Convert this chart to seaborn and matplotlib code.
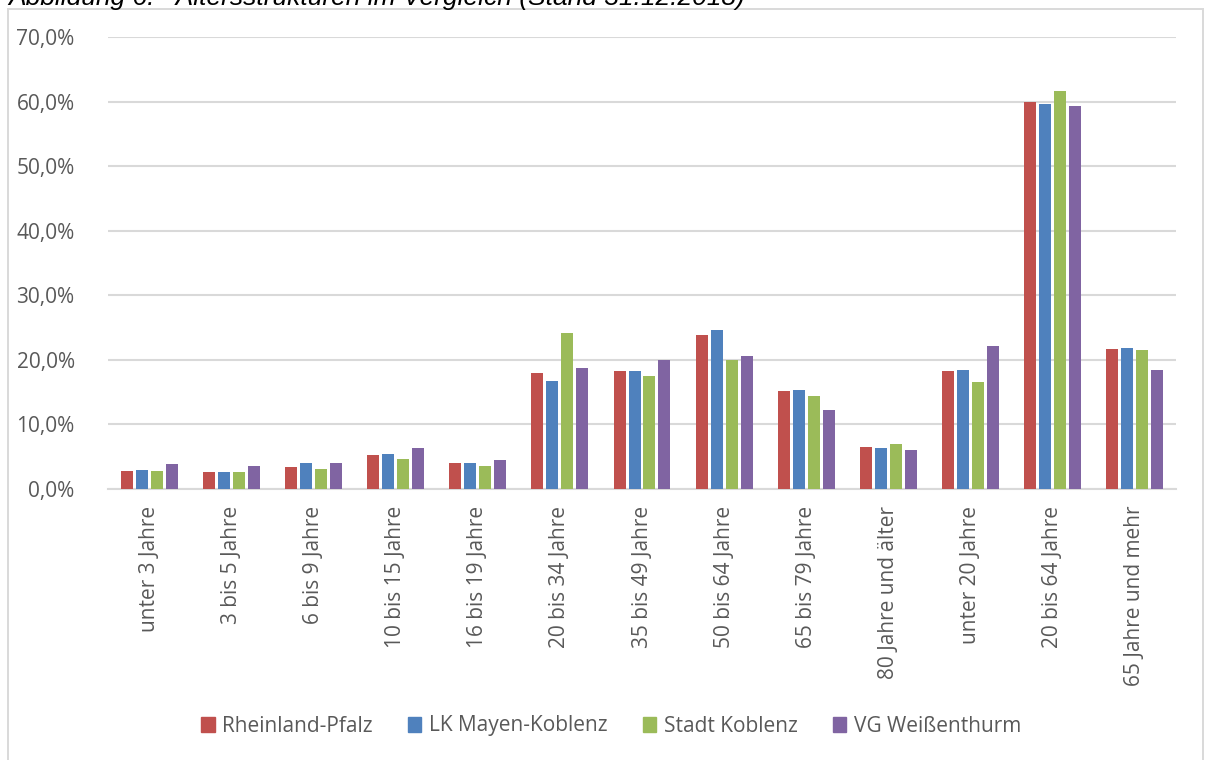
import matplotlib
matplotlib.use("Agg")
import matplotlib.pyplot as plt
from matplotlib.patches import Rectangle
from matplotlib.ticker import FuncFormatter, MultipleLocator
import seaborn as sns
import pandas as pd

# Age groups on the x axis
categories = [
    "unter 3 Jahre", "3 bis 5 Jahre", "6 bis 9 Jahre", "10 bis 15 Jahre",
    "16 bis 19 Jahre", "20 bis 34 Jahre", "35 bis 49 Jahre", "50 bis 64 Jahre",
    "65 bis 79 Jahre", "80 Jahre und älter", "unter 20 Jahre", "20 bis 64 Jahre",
    "65 Jahre und mehr",
]
regions = ["Rheinland-Pfalz", "LK Mayen-Koblenz", "Stadt Koblenz", "VG Weißenthurm"]

# Share of population per age group, in percent
rheinland_pfalz = [2.8, 2.6, 3.4, 5.3, 4.0, 17.9, 18.2, 23.9, 15.1, 6.5, 18.2, 60.0, 21.7]
lk_mayen_koblenz = [2.9, 2.7, 4.1, 5.4, 4.1, 16.7, 18.3, 24.6, 15.4, 6.4, 18.4, 59.7, 21.9]
stadt_koblenz = [2.8, 2.6, 3.1, 4.6, 3.6, 24.1, 17.5, 20.0, 14.4, 7.0, 16.6, 61.7, 21.6]
vg_weissenthurm = [3.8, 3.5, 4.1, 6.3, 4.5, 18.7, 20.0, 20.6, 12.3, 6.0, 22.2, 59.3, 18.4]

colors = ["#C0504D", "#4F81BD", "#9BBB59", "#8064A2"]

series = [rheinland_pfalz, lk_mayen_koblenz, stadt_koblenz, vg_weissenthurm]
rows = []
for region, values in zip(regions, series):
    for cat, v in zip(categories, values):
        rows.append({"Altersgruppe": cat, "Region": region, "Anteil": v})
df = pd.DataFrame(rows)

sns.set_style("white")
plt.rcParams["font.family"] = ["Open Sans", "DejaVu Sans"]

W, H = 1205, 760
fig = plt.figure(figsize=(W / 100, H / 100), dpi=100)
ax = fig.add_axes([108 / W, 1 - 489 / H, (1176 - 108) / W, (489 - 37) / H])

sns.barplot(
    data=df, x="Altersgruppe", y="Anteil", hue="Region",
    order=categories, hue_order=regions, palette=colors, saturation=1,
    width=0.73, gap=0.2, ax=ax, legend=False, zorder=3,
    edgecolor="none",
)

grid_color = "#D9D9D9"
text_color = "#595959"

ax.set_ylim(0, 70)
ax.set_xlim(-0.5, len(categories) - 0.5)
ax.yaxis.set_major_locator(MultipleLocator(10))
ax.yaxis.set_major_formatter(
    FuncFormatter(lambda v, _: f"{v:.1f}%".replace(".", ","))
)
ax.grid(axis="y", color=grid_color, linewidth=1.5, zorder=0)
ax.grid(axis="x", visible=False)
for side in ["top", "right", "left"]:
    ax.spines[side].set_visible(False)
ax.spines["bottom"].set_color(grid_color)
ax.spines["bottom"].set_linewidth(1.5)
ax.set_xlabel("")
ax.set_ylabel("")
ax.tick_params(axis="y", length=0, pad=24, labelsize=15, labelcolor=text_color)
ax.tick_params(axis="x", length=0, pad=12, labelsize=15, labelcolor=text_color)
plt.setp(ax.get_xticklabels(), rotation=90, ha="center", va="top")

# Legend below the plot
handles = [Rectangle((0, 0), 1, 1, color=c) for c in colors]
fig.legend(
    handles, regions, loc="center", bbox_to_anchor=(611 / W, 1 - 726 / H),
    ncol=4, frameon=False, fontsize=15, labelcolor=text_color,
    handlelength=0.65, handleheight=0.75, handletextpad=0.35,
    columnspacing=1.7,
)

# Chart frame
fig.add_artist(Rectangle(
    (8 / W, -0.02), (1203 - 8) / W, 1 - 9 / H + 0.02,
    transform=fig.transFigure, fill=False, edgecolor=grid_color,
    linewidth=1.4,
))

# Caption above the chart frame, running off the top edge of the page
title = fig.text(
    8 / W, 1 - 5.5 / H,
    "Abbildung 6:   Altersstrukturen im Vergleich (Stand 31.12.2018)",
    fontsize=17, style="italic", family=["Liberation Sans", "DejaVu Sans"],
    color="#000000", ha="left", va="baseline",
)
fig.canvas.draw()
tw = title.get_window_extent().width
title.set_fontsize(17 * (748 - 8) / tw)

fig.savefig("out.png", dpi=100)
